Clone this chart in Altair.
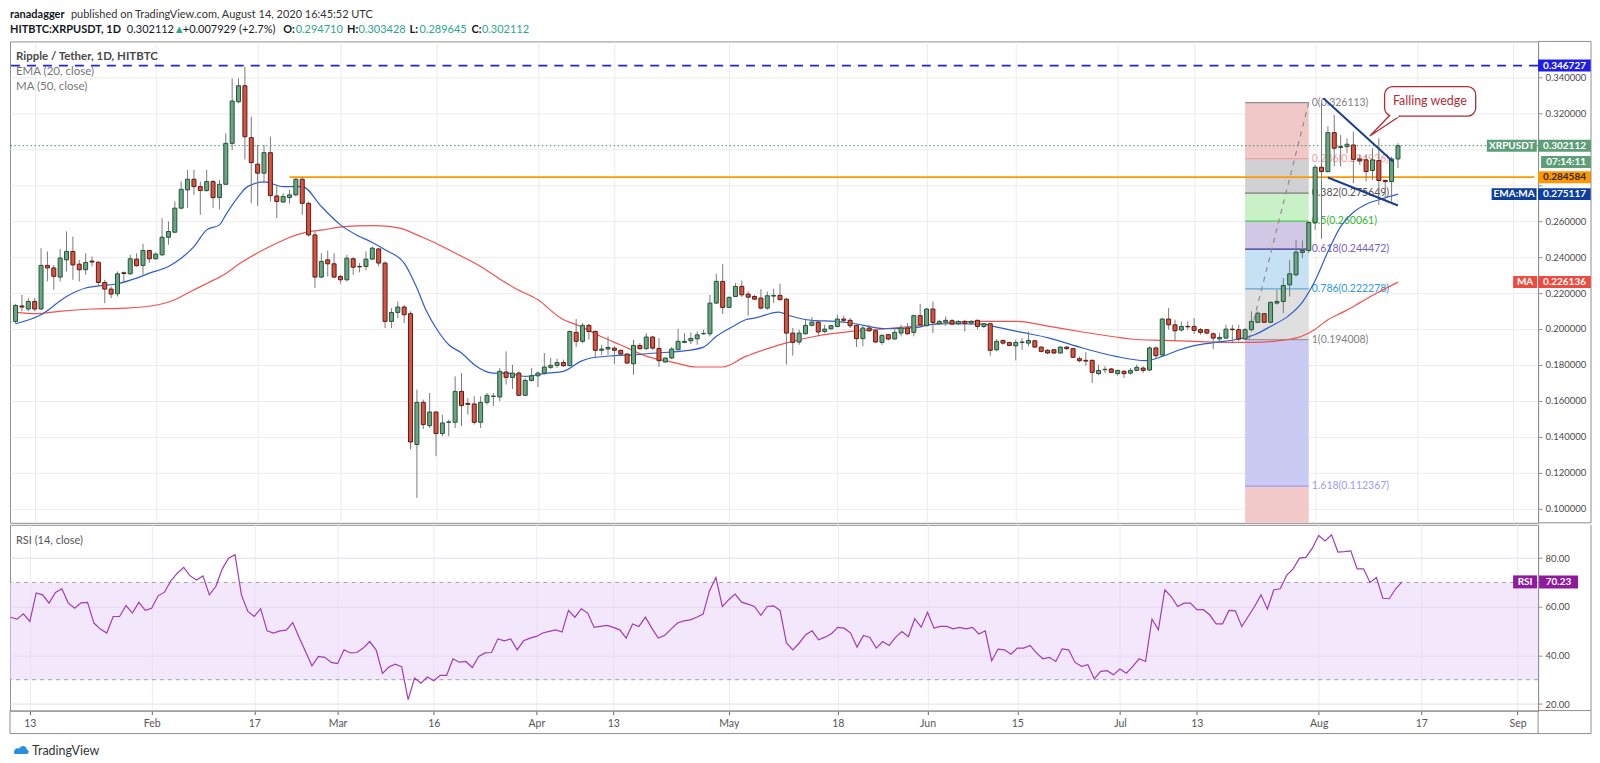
import altair as alt
import pandas as pd
import numpy as np

BASE = pd.Timestamp("2020-01-10")


def ts(d):
    return (BASE + pd.Timedelta(days=float(d))).strftime("%Y-%m-%dT%H:%M:%SZ")


# ---------------- daily OHLC, HITBTC XRP/USDT, 2020-01-10 .. 2020-08-14 ----------------
open_ = [
    .2042, .2128, .2111, .2153, .2111, .2354, .2340, .2289, .2385, .2432,
    .2361, .2330, .2378, .2372, .2259, .2222, .2196, .2313, .2307, .2389,
    .2354, .2437, .2391, .2413, .2511, .2539, .2673, .2775, .2834, .2793,
    .2771, .2821, .2732, .2806, .3034, .3266, .3355, .3066, .2918, .2868,
    .2982, .2741, .2707, .2732, .2747, .2834, .2700, .2524, .2289, .2385,
    .2363, .2292, .2274, .2391, .2348, .2348, .2389, .2446, .2367, .2042,
    .2092, .2122, .2085, .1356, .1591, .1461, .1537, .1417, .1480, .1480,
    .1652, .1585, .1582, .1480, .1591, .1624, .1621, .1760, .1730, .1754,
    .1630, .1713, .1739, .1754, .1786, .1797, .1813, .1795, .1981, .1931,
    .2020, .1986, .1881, .1888, .1893, .1881, .1860, .1806, .1908, .1890,
    .1955, .1891, .1816, .1838, .1884, .1925, .1934, .1945, .1973, .1973,
    .2144, .2265, .2120, .2181, .2237, .2194, .2181, .2172, .2116, .2183,
    .2187, .2166, .1977, .1927, .1973, .2020, .2038, .1986, .2001, .2014,
    .2055, .2048, .2020, .1946, .2005, .1990, .1925, .1968, .1944, .1977,
    .2005, .1981, .2074, .2018, .2111, .2029, .2038, .2046, .2029, .2042,
    .2033, .2048, .2014, .2029, .1884, .1936, .1925, .1906, .1925, .1921,
    .1934, .1899, .1881, .1884, .1866, .1899, .1890, .1834, .1825, .1825,
    .1751, .1773, .1777, .1751, .1764, .1754, .1769, .1782, .1771, .1894,
    .1855, .2055, .2023, .1994, .2014, .2014, .1996, .1996, .1973, .1944,
    .1949, .1999, .1996, .1944, .1996, .2037, .2085, .2037, .2144, .2153,
    .2246, .2302, .2426, .2437, .2593, .2901, .2877, .3094, .3011, .3016,
    .3025, .2947, .2942, .2883, .2938, .2828, .2821, .294710,
]
high = [
    .2140, .2190, .2172, .2172, .2450, .2432, .2357, .2445, .2543, .2515,
    .2385, .2422, .2404, .2376, .2274, .2237, .2320, .2320, .2413, .2422,
    .2474, .2441, .2426, .2617, .2599, .2710, .2821, .2886, .2886, .2821,
    .2886, .2830, .2830, .3090, .3396, .3396, .3461, .3183, .3025, .3025,
    .3072, .2803, .2756, .2775, .2840, .2845, .2710, .2543, .2422, .2437,
    .2422, .2302, .2413, .2400, .2367, .2432, .2459, .2450, .2376, .2116,
    .2153, .2134, .2098, .1662, .1606, .1643, .1541, .1522, .1495, .1736,
    .1754, .1615, .1625, .1625, .1643, .1643, .1782, .1875, .1801, .1764,
    .1727, .1782, .1764, .1866, .1838, .1834, .1829, .1990, .2055, .2033,
    .2029, .1992, .1912, .1958, .1903, .1884, .1866, .1940, .1921, .1977,
    .1962, .1949, .1840, .1899, .1999, .1977, .1981, .1986, .1996, .2190,
    .2307, .2361, .2181, .2255, .2270, .2209, .2190, .2222, .2209, .2224,
    .2252, .2172, .2005, .1996, .2051, .2066, .2051, .2023, .2023, .2079,
    .2074, .2061, .2023, .2018, .2023, .1996, .1971, .1973, .2005, .2023,
    .2033, .2079, .2140, .2116, .2153, .2051, .2070, .2055, .2048, .2051,
    .2048, .2051, .2033, .2033, .1944, .1940, .1927, .1940, .1949, .1986,
    .1940, .1903, .1888, .1888, .1903, .1903, .1894, .1847, .1870, .1829,
    .1801, .1792, .1782, .1773, .1769, .1782, .1801, .1792, .1903, .1903,
    .2061, .2116, .2051, .2042, .2042, .2061, .2005, .1999, .1981, .1977,
    .2023, .2023, .2023, .2005, .2098, .2098, .2088, .2153, .2218, .2283,
    .2385, .2496, .2493, .2599, .2914, .3261, .3130, .3192, .3081, .3062,
    .3099, .2969, .2969, .3007, .3062, .2830, .2960, .303428,
]
low = [
    .2030, .2098, .2098, .2098, .2107, .2265, .2218, .2265, .2320, .2274,
    .2265, .2302, .2348, .2237, .2144, .2172, .2181, .2255, .2302, .2348,
    .2302, .2367, .2385, .2407, .2469, .2534, .2669, .2673, .2747, .2636,
    .2765, .2673, .2667, .2803, .2997, .3257, .2945, .2701, .2686, .2812,
    .2710, .2617, .2704, .2700, .2738, .2636, .2515, .2228, .2283, .2292,
    .2283, .2252, .2265, .2302, .2315, .2326, .2385, .2348, .2005, .2005,
    .2061, .2033, .1330, .1059, .1442, .1448, .1291, .1402, .1402, .1448,
    .1458, .1523, .1467, .1448, .1578, .1569, .1597, .1690, .1665, .1628,
    .1628, .1708, .1676, .1745, .1777, .1782, .1788, .1792, .1899, .1921,
    .1940, .1838, .1856, .1856, .1805, .1847, .1806, .1745, .1884, .1884,
    .1884, .1788, .1810, .1832, .1884, .1921, .1916, .1912, .1968, .1958,
    .2140, .2083, .2116, .2177, .2177, .2074, .2162, .2110, .2107, .2144,
    .2159, .1801, .1851, .1912, .1968, .2014, .1959, .1977, .1996, .2009,
    .2033, .2005, .1899, .1903, .1983, .1921, .1912, .1936, .1940, .1959,
    .1968, .1959, .2014, .2014, .1977, .2023, .2018, .2023, .2022, .1986,
    .2023, .1999, .2005, .1851, .1875, .1912, .1903, .1825, .1884, .1903,
    .1894, .1870, .1860, .1860, .1862, .1884, .1838, .1814, .1795, .1699,
    .1742, .1755, .1755, .1740, .1727, .1745, .1764, .1755, .1765, .1838,
    .1847, .1996, .1931, .1986, .1996, .1973, .1968, .1968, .1888, .1931,
    .1944, .1921, .1931, .1940, .1986, .2033, .2033, .2033, .2135, .2088,
    .2181, .2292, .2394, .2422, .2552, .2502, .2871, .2905, .2905, .2979,
    .2812, .2914, .2821, .2830, .2691, .2719, .2710, .289645,
]
close = [
    .2131, .2122, .2153, .2111, .2354, .2340, .2293, .2395, .2432, .2357,
    .2330, .2370, .2373, .2259, .2222, .2194, .2307, .2309, .2391, .2352,
    .2437, .2391, .2417, .2511, .2543, .2673, .2778, .2834, .2793, .2771,
    .2821, .2732, .2806, .3034, .3270, .3355, .3071, .2927, .2868, .2982,
    .2743, .2710, .2738, .2747, .2834, .2700, .2524, .2289, .2376, .2363,
    .2289, .2274, .2394, .2344, .2346, .2389, .2450, .2367, .2042, .2092,
    .2122, .2079, .1370, .1591, .1467, .1537, .1417, .1476, .1482, .1652,
    .1573, .1580, .1480, .1591, .1630, .1626, .1764, .1730, .1754, .1630,
    .1713, .1739, .1754, .1788, .1797, .1813, .1795, .1986, .1931, .2020,
    .1986, .1881, .1888, .1897, .1881, .1860, .1810, .1908, .1890, .1955,
    .1893, .1823, .1838, .1888, .1931, .1931, .1947, .1967, .1975, .2144,
    .2265, .2120, .2176, .2237, .2190, .2177, .2166, .2116, .2185, .2187,
    .2163, .1977, .1925, .1977, .2020, .2038, .1983, .1999, .2018, .2055,
    .2048, .2018, .1946, .2005, .1990, .1927, .1964, .1944, .1981, .2005,
    .1973, .2074, .2024, .2111, .2036, .2042, .2048, .2027, .2042, .2031,
    .2042, .2014, .2029, .1881, .1931, .1921, .1908, .1925, .1927, .1936,
    .1899, .1875, .1866, .1866, .1899, .1890, .1842, .1823, .1821, .1758,
    .1769, .1775, .1758, .1769, .1751, .1769, .1786, .1769, .1894, .1851,
    .2055, .2023, .1990, .2014, .2012, .1992, .1981, .1977, .1949, .1953,
    .1999, .1996, .1944, .1996, .2042, .2088, .2037, .2148, .2153, .2242,
    .2307, .2428, .2437, .2593, .2901, .2877, .3094, .3007, .3016, .3029,
    .2945, .2936, .2877, .2942, .2827, .2821, .2947, .302112,
]
rsi = [
    55.7, 54.9, 57.1, 54.0, 65.7, 64.9, 61.5, 65.9, 67.4, 61.5,
    59.4, 61.6, 61.8, 53.3, 50.8, 49.2, 56.0, 56.0, 60.5, 57.4,
    61.8, 58.5, 59.4, 64.5, 66.0, 70.7, 73.8, 76.2, 72.7, 71.0,
    72.7, 64.9, 68.3, 75.5, 80.0, 81.4, 64.9, 58.1, 56.0, 59.2,
    50.1, 49.2, 50.1, 50.4, 53.5, 47.4, 41.6, 35.7, 39.6, 39.2,
    37.1, 36.6, 42.3, 41.0, 41.2, 43.0, 45.7, 42.3, 32.6, 35.2,
    36.4, 35.3, 21.8, 30.7, 28.6, 31.1, 29.6, 31.8, 31.8, 38.6,
    37.2, 37.5, 35.0, 39.6, 41.0, 41.2, 46.8, 46.0, 46.8, 42.3,
    46.0, 47.1, 47.8, 49.2, 49.9, 50.5, 49.6, 58.5, 55.7, 59.2,
    57.4, 51.5, 51.9, 52.3, 51.5, 50.5, 47.1, 52.9, 51.9, 55.7,
    51.2, 47.1, 48.2, 50.8, 53.3, 54.2, 54.6, 55.7, 57.0, 66.6,
    72.0, 60.1, 62.9, 65.2, 61.9, 61.1, 60.1, 56.5, 60.1, 60.4,
    58.5, 45.1, 42.3, 45.1, 48.5, 50.1, 46.4, 47.5, 48.9, 51.5,
    51.2, 49.2, 43.4, 48.2, 47.4, 43.0, 45.7, 44.1, 47.4, 49.8,
    47.7, 55.1, 51.6, 57.7, 51.2, 51.9, 51.9, 50.9, 51.5, 50.9,
    51.5, 48.8, 50.1, 37.8, 42.6, 42.3, 40.5, 43.0, 43.0, 44.1,
    40.9, 38.6, 39.2, 37.5, 42.7, 42.3, 37.1, 35.5, 36.2, 30.3,
    33.4, 33.7, 32.0, 34.4, 32.7, 35.5, 38.6, 37.5, 54.9, 50.5,
    67.0, 64.2, 60.1, 61.5, 61.5, 58.8, 58.8, 56.7, 53.0, 53.0,
    58.5, 58.3, 51.9, 56.0, 60.1, 64.9, 59.0, 67.0, 67.4, 72.9,
    75.6, 80.0, 80.3, 84.1, 89.3, 87.1, 89.6, 82.5, 82.7, 83.0,
    75.6, 75.6, 70.0, 72.0, 63.5, 63.3, 67.4, 70.23,
]

# EMA(20) and MA(50) (day offset from 2020-01-10, value)
ema_day = [0, 4, 8, 11, 13, 16, 19, 21, 24, 26,
           28, 30, 32, 33, 35, 36.4, 39, 42, 45, 48,
           51, 53.5, 56, 58, 61, 63, 64.4, 66, 68, 70,
           72, 75, 77, 80, 83.5, 86, 88.7, 90.3, 94, 97,
           100.6, 104.3, 108, 110, 112.6, 114.6, 116, 119.8, 121.4, 125,
           128.6, 131.2, 136.4, 141.6, 143.2, 146.8, 152, 153.5, 157.2, 162.3,
           167.5, 172.7, 177.4, 180, 182.5, 185, 188.3, 192, 194.5, 197,
           199.7, 202, 204, 206, 208, 210, 212, 214, 217]
ema_val = [0.2029, 0.2079, 0.2181, 0.2228, 0.2240, 0.2252, 0.2283, 0.2311, 0.2348, 0.2394,
           0.2459, 0.2552, 0.2580, 0.2636, 0.2738, 0.2793, 0.2819, 0.2793, 0.2793, 0.2682,
           0.2580, 0.2524, 0.2482, 0.2441, 0.2367, 0.2228, 0.2107, 0.2005, 0.1912, 0.1866,
           0.1801, 0.1754, 0.1754, 0.1736, 0.1754, 0.1764, 0.1819, 0.1838, 0.1851, 0.1856,
           0.1866, 0.1875, 0.1899, 0.1959, 0.2014, 0.2051, 0.2060, 0.2094, 0.2075, 0.2048,
           0.2042, 0.2033, 0.2001, 0.2009, 0.2023, 0.2029, 0.2027, 0.2014, 0.1986, 0.1949,
           0.1894, 0.1847, 0.1823, 0.1847, 0.1881, 0.1907, 0.1925, 0.1944, 0.1968, 0.2014,
           0.2070, 0.2150, 0.2270, 0.2430, 0.2570, 0.2650, 0.2695, 0.2720, 0.2751]
ma_day = [0, 3.2, 6.8, 12, 17.2, 22.4, 25, 27.5, 30.1, 32.7,
          35.3, 37.9, 40.5, 43.1, 45.7, 48.3, 50.9, 53.5, 56.1, 58.6,
          61.2, 63, 65.4, 68, 70.6, 73.2, 75.8, 78.4, 82, 85.6,
          88.7, 91.9, 94.9, 99.1, 103.2, 106.9, 111, 114.6, 118.8, 120.9,
          126, 131.2, 136.4, 141.6, 146.8, 152, 157.2, 162.3, 167.5, 172.7,
          175, 180, 185.1, 190.3, 194.5, 198.1, 201.8, 203.9, 206, 208.6,
          211.1, 213.7, 217]
ma_val = [0.2092, 0.2085, 0.2098, 0.2111, 0.2116, 0.2135, 0.2163, 0.2209, 0.2255, 0.2302,
          0.2367, 0.2422, 0.2469, 0.2511, 0.2539, 0.2552, 0.2567, 0.2574, 0.2576, 0.2571,
          0.2552, 0.2524, 0.2487, 0.2441, 0.2394, 0.2344, 0.2283, 0.2227, 0.2162, 0.2060,
          0.2014, 0.1958, 0.1912, 0.1847, 0.1814, 0.1788, 0.1788, 0.1847, 0.1899, 0.1921,
          0.1962, 0.1986, 0.2001, 0.2018, 0.2036, 0.2042, 0.2042, 0.2014, 0.1983, 0.1955,
          0.1944, 0.1936, 0.1931, 0.1925, 0.1925, 0.1934, 0.1958, 0.1996, 0.2051, 0.2098,
          0.2148, 0.2200, 0.2261]

# Fibonacci retracement (Jul 21 low -> Aug 2 high)
fib_ratio = [0, 0.236, 0.382, 0.5, 0.618, 0.786, 1, 1.618, 2.618]
fib_price = [0.326113, 0.294936, 0.275649, 0.260061, 0.244472, 0.222278, 0.194008, 0.112367, -0.019743]
fib_zone_color = ["#F0C3C3", "#CDCDD0", "#C3F0C3", "#CDC3E4", "#C0DEF2", "#DCDCDC", "#C5C5F2", "#F2C5C5"]
fib_line_color = ["#8f8f8f", "#F2A0A0", "#7d7d7d", "#4CC94C", "#3F2D8F", "#5DA9DD", "#9a9a9a", "#9C9CF2"]
fib_label_color = ["#7f7f7f", "#F2A0A0", "#555555", "#2DB82D", "#7B5FBF", "#2E98DA", "#7f7f7f", "#9C9CF2"]

tick_md = [(1, 13), (2, 1), (2, 17), (3, 1), (3, 16), (4, 1), (4, 13), (5, 1),
           (5, 18), (6, 1), (6, 15), (7, 1), (7, 13), (8, 1), (8, 17), (9, 1)]
price_ticks = [0.10, 0.12, 0.14, 0.16, 0.18, 0.20, 0.22, 0.24, 0.26, 0.28, 0.30, 0.32, 0.34]

# ---------------- layout constants ----------------
W, HM, HR, HH = 1530, 482, 186, 30
RE = 1583
FONT = "Lato"
GRID = "#ececec"
BORDER = "#8f8f8f"

n = len(close)
assert len(open_) == n == len(high) == len(low) == len(rsi) == 218

dates = [ts(i) for i in range(n)]
candles = pd.DataFrame({"date": dates, "open": open_, "high": high, "low": low, "close": close})
candles["dir"] = np.where(candles["close"] >= candles["open"], "up", "down")

tick_vals = [alt.DateTime(year=2020, month=m, date=d, utc=True) for m, d in tick_md]
xscale = alt.Scale(type="utc", domain=[
    alt.DateTime(year=2020, month=1, date=9, hours=21, minutes=50, utc=True),
    alt.DateTime(year=2020, month=9, date=4, hours=5, utc=True)])
xaxis_main = alt.Axis(values=tick_vals, labels=False, ticks=False, domain=False, grid=True,
                      gridColor=GRID, title=None)
yscale = alt.Scale(domain=[0.09197, 0.36020], nice=False, zero=False)
# labels at 0.28 / 0.30 are covered by the price boxes in the original
yaxis_main = alt.Axis(orient="right", values=price_ticks, format=".6f", grid=True, gridColor=GRID,
                      title=None, tickSize=4, tickColor=BORDER, domainColor=BORDER,
                      labelColor="#4a4a4a", labelFont=FONT, labelFontSize=9.5, labelPadding=3,
                      labelExpr="(abs(datum.value - 0.30) < 0.001 || abs(datum.value - 0.28) < 0.001) ? '' : datum.label")


def X(f):
    return alt.X(f"{f}:T", scale=xscale, axis=xaxis_main)


def Y(f):
    return alt.Y(f"{f}:Q", scale=yscale, axis=yaxis_main)


one = pd.DataFrame({"k": [0]})

# ---------------- main panel ----------------
zones = pd.DataFrame({"x1": ts(193), "x2": ts(203), "hi": fib_price[:-1], "lo": fib_price[1:],
                      "c": fib_zone_color})
fib_zone = alt.Chart(zones).mark_rect(clip=True, opacity=0.92).encode(
    x=X("x1"), x2="x2", y=Y("lo"), y2="hi", color=alt.Color("c:N", scale=None))

levels = pd.DataFrame({
    "x1": ts(193), "x2": ts(203), "p": fib_price[:-1], "c": fib_line_color,
    "lc": fib_label_color,
    "label": [f"{r:g}({p:.6f})" for r, p in zip(fib_ratio[:-1], fib_price[:-1])]})
fib_lines = alt.Chart(levels).mark_rule(strokeWidth=1.2).encode(
    x=X("x1"), x2="x2", y=Y("p"), color=alt.Color("c:N", scale=None))
fib_labels = alt.Chart(levels).mark_text(align="left", dx=3, fontSize=10.5, font=FONT).encode(
    x=X("x2"), y=Y("p"), text="label:N", color=alt.Color("lc:N", scale=None))
fib_trend = alt.Chart(pd.DataFrame({"date": [ts(193.6), ts(203)], "p": [0.194008, 0.326113]})).mark_line(
    color="#8c8c8c", strokeDash=[5, 5], strokeWidth=1.2).encode(x=X("date"), y=Y("p"))

blue_line = alt.Chart(pd.DataFrame({"p": [0.346727]})).mark_rule(
    color="#2323E6", strokeDash=[9, 7], strokeWidth=1.6).encode(y=Y("p"))
green_dot = alt.Chart(pd.DataFrame({"p": [0.302112]})).mark_rule(
    color="#3d8f5f", strokeDash=[1.5, 2.5], strokeWidth=1).encode(y=Y("p"))
orange_line = alt.Chart(pd.DataFrame({"x1": [ts(43)], "x2": [ts(238.4)], "p": [0.284584]})).mark_rule(
    color="#FF9800", strokeWidth=1.6, clip=True).encode(x=X("x1"), x2="x2", y=Y("p"))

ma_line = alt.Chart(pd.DataFrame({"date": [ts(d) for d in ma_day], "v": ma_val})).mark_line(
    color="#EF5350", strokeWidth=1.2, interpolate="monotone", clip=True).encode(x=X("date"), y=Y("v"))
ema_line = alt.Chart(pd.DataFrame({"date": [ts(d) for d in ema_day], "v": ema_val})).mark_line(
    color="#2E5FC7", strokeWidth=1.2, interpolate="monotone", clip=True).encode(x=X("date"), y=Y("v"))

dir_fill = alt.Scale(domain=["up", "down"], range=["#6BA583", "#D75442"])
dir_stroke = alt.Scale(domain=["up", "down"], range=["#225437", "#5B1A13"])
wicks = alt.Chart(candles).mark_rule(color="#7a7a7a", strokeWidth=1, clip=True).encode(
    x=X("date"), y=Y("low"), y2="high")
bodies = alt.Chart(candles).mark_bar(size=4, strokeWidth=1, clip=True, orient="vertical").encode(
    x=X("date"), y=Y("open"), y2="close",
    color=alt.Color("dir:N", scale=dir_fill, legend=None),
    stroke=alt.Stroke("dir:N", scale=dir_stroke, legend=None))

wedge = alt.Chart(pd.DataFrame({
    "seg": ["u", "u", "l", "l"],
    "date": [ts(205.3), ts(216.2), ts(206.0), ts(217.0)],
    "p": [0.3285, 0.2933, 0.2844, 0.2688]})).mark_line(color="#1c3f8c", strokeWidth=2).encode(
    x=X("date"), y=Y("p"), detail="seg:N")

call_rect = alt.Chart(pd.DataFrame({"x1": [ts(214.9)], "x2": [ts(229.2)], "lo": [0.31863], "hi": [0.33499]})).mark_rect(
    cornerRadius=8, fill="white", stroke="#B22D35", strokeWidth=1.3).encode(
    x=X("x1"), x2="x2", y=Y("lo"), y2="hi")
call_cover = alt.Chart(pd.DataFrame({"x1": [ts(215.8)], "x2": [ts(217.1)], "p": [0.31863]})).mark_rule(
    color="white", strokeWidth=2.5).encode(x=X("x1"), x2="x2", y=Y("p"))
call_tail = alt.Chart(pd.DataFrame({"date": [ts(215.6), ts(212.6), ts(217.3)],
                                    "p": [0.31863, 0.3075, 0.31863], "o": [0, 1, 2]})).mark_line(
    color="#B22D35", strokeWidth=1.3).encode(x=X("date"), y=Y("p"), order="o:Q")
call_text = alt.Chart(pd.DataFrame({"date": [ts(222.0)], "p": [0.3268], "t": ["Falling wedge"]})).mark_text(
    color="#B22D35", fontSize=12.5, font=FONT).encode(x=X("date"), y=Y("p"), text="t:N")

panel_bold = alt.Chart(pd.DataFrame({"t": ["Ripple / Tether, 1D, HITBTC"]})).mark_text(
    align="left", fontSize=11.5, fontWeight="bold", color="#4a4a4a", font=FONT).encode(
    x=alt.value(6), y=alt.value(16), text="t:N")
panel_ind = alt.Chart(pd.DataFrame({"t": ["EMA (20, close)", "MA (50, close)"], "y": [31, 46]})).mark_text(
    align="left", fontSize=11.5, color="#777777", font=FONT).encode(
    x=alt.value(6), y=alt.Y("y:Q", scale=None, axis=None), text="t:N")


def boxes(df, xc, thick=12):
    base = alt.Chart(df)
    box = base.mark_tick(orient="horizontal", thickness=thick, opacity=1).encode(
        x=alt.value(xc), y=Y("p"), size=alt.Size("w:Q", scale=None, legend=None),
        color=alt.Color("bg:N", scale=None))
    txt = base.mark_text(fontSize=10, fontWeight="bold", font=FONT).encode(
        x=alt.value(xc), y=Y("p"), text="t:N", color=alt.Color("fg:N", scale=None))
    return [box, txt]


axis_boxes = pd.DataFrame({
    "t": ["0.346727", "0.302112", "0.284584", "0.275117", "0.226136"],
    "p": [0.346727, 0.302112, 0.284584, 0.275117, 0.226136],
    "w": [53, 53, 53, 53, 53],
    "bg": ["#1E1EE6", "#5E9E78", "#FF9800", "#0E3F9E", "#EF4A3F"],
    "fg": ["white", "white", "#2a2a2a", "white", "white"]})
timer_box = pd.DataFrame({"t": ["07:14:11"], "p": [0.2930], "w": [50], "bg": ["#5E9E78"], "fg": ["white"]})
xrp_box = pd.DataFrame({"t": ["XRPUSDT"], "p": [0.302112], "w": [50], "bg": ["#5E9E78"], "fg": ["white"]})
ema_box = pd.DataFrame({"t": ["EMA:MA"], "p": [0.275117], "w": [45], "bg": ["#0E3F9E"], "fg": ["white"]})
ma_box = pd.DataFrame({"t": ["MA"], "p": [0.226136], "w": [24], "bg": ["#EF4A3F"], "fg": ["white"]})

main_borders = [
    alt.Chart(one).mark_rule(color=BORDER).encode(x=alt.value(W), x2=alt.value(RE), y=alt.value(0)),
    alt.Chart(one).mark_rule(color=BORDER).encode(x=alt.value(W), x2=alt.value(RE), y=alt.value(HM)),
    alt.Chart(one).mark_rule(color=BORDER).encode(x=alt.value(RE), y=alt.value(0), y2=alt.value(HM)),
]

main = alt.layer(
    fib_zone, fib_lines, fib_trend, fib_labels,
    blue_line, green_dot, orange_line,
    ma_line, ema_line, wicks, bodies, wedge,
    call_rect, call_tail, call_cover, call_text,
    panel_bold, panel_ind,
    *boxes(axis_boxes, 1556.5), *boxes(timer_box, 1558), *boxes(xrp_box, 1503.7),
    *boxes(ema_box, 1506), *boxes(ma_box, 1517),
    *main_borders,
).properties(width=W, height=HM)

# ---------------- RSI panel ----------------
xaxis_rsi = alt.Axis(values=tick_vals, grid=True, gridColor=GRID, ticks=True, tickSize=4, tickColor="#666666",
                     domain=True, domainColor=BORDER, labelColor="#555555", labelFont=FONT, labelFontSize=10.5,
                     labelPadding=4, labelFlush=False, title=None,
                     labelExpr="utcdate(datum.value) == 1 ? utcFormat(datum.value, '%b') : utcFormat(datum.value, '%-d')")
yscale_rsi = alt.Scale(domain=[17.3, 93.7], nice=False, zero=False)
yaxis_rsi = alt.Axis(orient="right", values=[20, 40, 60, 80], format=".2f", grid=True, gridColor="#e4dde9",
                     title=None, tickSize=4, tickColor=BORDER, domainColor=BORDER, labelColor="#4a4a4a",
                     labelFont=FONT, labelFontSize=9.5, labelPadding=3)


def XR(f):
    return alt.X(f"{f}:T", scale=xscale, axis=xaxis_rsi)


def YR(f):
    return alt.Y(f"{f}:Q", scale=yscale_rsi, axis=yaxis_rsi)


rsi_df = pd.DataFrame({"date": dates, "rsi": rsi})
band = alt.Chart(pd.DataFrame({"lo": [30], "hi": [70]})).mark_rect(color="#E9D3FA", opacity=0.55).encode(
    x=alt.value(0), x2=alt.value(W), y=YR("lo"), y2="hi")
band_lines = alt.Chart(pd.DataFrame({"v": [30, 70]})).mark_rule(
    color="#a898b4", strokeDash=[4, 4], strokeWidth=1).encode(y=YR("v"))
rsi_line = alt.Chart(rsi_df).mark_line(color="#A03CB6", strokeWidth=1.2, clip=True).encode(
    x=XR("date"), y=YR("rsi"))
rsi_title = alt.Chart(pd.DataFrame({"t": ["RSI (14, close)"]})).mark_text(
    align="left", fontSize=11, color="#555555", font=FONT).encode(x=alt.value(6), y=alt.value(16), text="t:N")


def rsi_box(t, v, xc, w):
    df = pd.DataFrame({"t": [t], "v": [v], "w": [w]})
    base = alt.Chart(df)
    return [
        base.mark_tick(orient="horizontal", thickness=13, opacity=1, color="#8E1A9E").encode(
            x=alt.value(xc), y=YR("v"), size=alt.Size("w:Q", scale=None, legend=None)),
        base.mark_text(fontSize=10, fontWeight="bold", color="white", font=FONT).encode(
            x=alt.value(xc), y=YR("v"), text="t:N"),
    ]


rsi_borders = [
    alt.Chart(one).mark_rule(color=BORDER).encode(x=alt.value(W), x2=alt.value(RE), y=alt.value(HR)),
    alt.Chart(one).mark_rule(color=BORDER).encode(x=alt.value(0), x2=alt.value(RE), y=alt.value(HR + 23)),
    alt.Chart(one).mark_rule(color=BORDER).encode(x=alt.value(RE), y=alt.value(0), y2=alt.value(HR + 23)),
    alt.Chart(one).mark_rule(color=BORDER).encode(x=alt.value(0), y=alt.value(HR), y2=alt.value(HR + 23)),
    alt.Chart(one).mark_rule(color=BORDER).encode(x=alt.value(W), y=alt.value(HR), y2=alt.value(HR + 23)),
]
tv_text = alt.Chart(pd.DataFrame({"t": ["TradingView"]})).mark_text(
    align="left", fontSize=12.5, color="#333333", font=FONT).encode(
    x=alt.value(22), y=alt.value(HR + 40), text="t:N")
tv_logo = alt.Chart(one).mark_point(
    shape="M-1,0.55 C-1.25,-0.1 -0.7,-0.55 -0.25,-0.3 C-0.05,-0.85 0.8,-0.85 0.9,-0.15 C1.35,-0.05 1.25,0.6 0.8,0.55 Z",
    filled=True, color="#2A8FE0", size=170, opacity=1).encode(x=alt.value(11), y=alt.value(HR + 40))

rsi_chart = alt.layer(
    band, band_lines, rsi_line, rsi_title,
    *rsi_box("RSI", 70.23, 1517, 24), *rsi_box("70.23", 70.23, 1550.5, 39),
    *rsi_borders, tv_text, tv_logo,
).properties(width=W, height=HR)

# ---------------- header ----------------
DARK = "#131722"
TEAL = "#2BA68C"
hdr = pd.DataFrame([
    ("ranadagger", 0, 6, DARK, "bold"),
    ("published on TradingView.com, August 14, 2020 16:45:52 UTC", 61, 6, "#333333", "normal"),
    ("HITBTC:XRPUSDT, 1D", 0, 21, DARK, "bold"),
    ("0.302112", 117, 21, DARK, "normal"),
    ("\u25B2", 164, 21, TEAL, "normal"),
    ("+0.007929 (+2.7%)", 173, 21, DARK, "normal"),
    ("O:", 273.5, 21, DARK, "bold"),
    ("0.294710", 286, 21, TEAL, "normal"),
    ("H:", 337.5, 21, DARK, "bold"),
    ("0.303428", 349, 21, TEAL, "normal"),
    ("L:", 400, 21, DARK, "bold"),
    ("0.289645", 410, 21, TEAL, "normal"),
    ("C:", 462, 21, DARK, "bold"),
    ("0.302112", 472.5, 21, TEAL, "normal"),
], columns=["t", "x", "y", "c", "w"])


def hdr_layer(weight):
    return alt.Chart(hdr[hdr["w"] == weight]).mark_text(
        align="left", baseline="middle", fontSize=11, font=FONT, fontWeight=weight).encode(
        x=alt.X("x:Q", scale=None, axis=None), y=alt.Y("y:Q", scale=None, axis=None),
        text="t:N", color=alt.Color("c:N", scale=None))


header = alt.layer(hdr_layer("bold"), hdr_layer("normal")).properties(
    width=W, height=HH, view=alt.ViewBackground(stroke="transparent"))

chart = alt.vconcat(header, main, rsi_chart, spacing=0).properties(padding=0).configure(
    font=FONT).configure_view(stroke=BORDER, strokeWidth=1)

chart.save("out.html", embed_options={"renderer": "svg", "actions": False})
